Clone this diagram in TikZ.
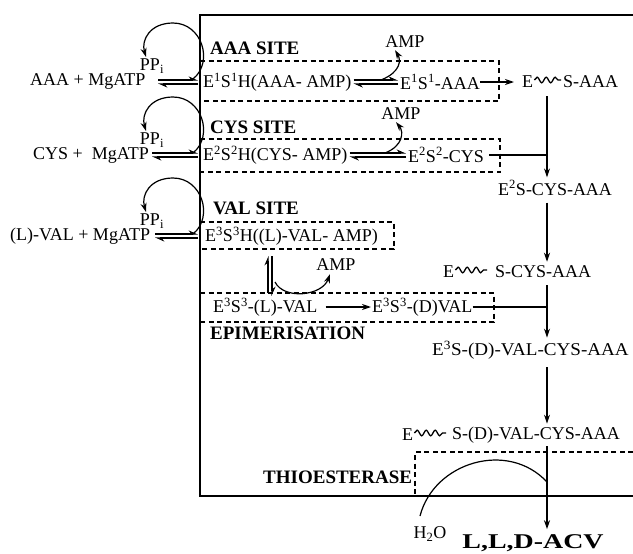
\documentclass[tikz,border=0pt]{standalone}
\usepackage{fontspec}
\setmainfont{Liberation Serif}
\usepackage{graphicx}
\usetikzlibrary{arrows.meta,decorations.pathmorphing,calc}
\newcommand\eqharp[3]{%
  \draw[harp] (#1,#3-2) -- (#2,#3-2);
  \draw[harp] (#2,#3+2) -- (#1,#3+2);}
\newcommand\eqnodes[2]{%
  \draw[harp] ([xshift=2pt,yshift=2pt]#1.east) -- ([xshift=-2pt,yshift=2pt]#2.west);
  \draw[harp] ([xshift=-2pt,yshift=-2pt]#2.west) -- ([xshift=2pt,yshift=-2pt]#1.east);}
\begin{document}
\begin{tikzpicture}[x=1pt,y=-1pt,
  txt/.style={inner sep=0pt, anchor=west, font=\fontsize{18}{20}\selectfont},
  lbl/.style={inner sep=0pt, anchor=west, font=\fontsize{19}{21}\selectfont\bfseries},
  pp/.style={inner sep=0pt, font=\fontsize{18}{20}\selectfont},
  frame/.style={line width=1.4pt},
  box/.style={line width=1.2pt, dash pattern=on 5pt off 3.5pt},
  ln/.style={line width=1.2pt},
  arr/.style={line width=1.2pt, -{Stealth[length=9pt,width=6pt]}},
  harp/.style={line width=1.1pt, -{Stealth[harpoon,length=8pt,width=7pt]}},
  wave/.style={line width=1.3pt, decorate, decoration={snake, amplitude=2.8pt, segment length=9pt}},
]
\useasboundingbox (0,0) rectangle (633,554);

% frame and dashed boxes
\draw[frame] (633,15) -- (200,15) -- (200,496) -- (633,496);
\draw[box] (200,61) -- (499,61) -- (499,101) -- (200,101);
\draw[box] (200,139) -- (500,139) -- (500,172) -- (200,172);
\draw[box] (200,222) -- (394,222) -- (394,249) -- (200,249);
\draw[box] (200,293) -- (494,293) -- (494,322) -- (200,322);
\draw[box] (633,452) -- (415,452) -- (415,496);

% site labels
\node[lbl] (lab1) at (210,48) {AAA SITE};
\node[lbl] (lab2) at (210,127) {CYS SITE};
\node[lbl] (lab3) at (213,208) {VAL SITE};
\node[lbl] (lab4) at (210,333) {EPIMERISATION};
\node[lbl] (lab5) at (263,477) {THIOESTERASE};

% substrates
\node[txt] (r1a) at (30,82) {AAA + MgATP};
\node[txt] (r2a) at (33,155) {CYS + \ MgATP};
\node[txt] (r3a) at (10,236) {(L)-VAL + MgATP};
\node[pp] (pp1) at (152,66) {PP\textsubscript{i}};
\node[pp] (pp2) at (152,140) {PP\textsubscript{i}};
\node[pp] (pp3) at (152,221) {PP\textsubscript{i}};

% intermediates
\node[txt] (n1h) at (203,82) {E\textsuperscript{1}S\textsuperscript{1}H(AAA- AMP)};
\node[txt] (n1) at (400,82) {E\textsuperscript{1}S\textsuperscript{1}-AAA};
\node[txt] (n2h) at (203,155) {E\textsuperscript{2}S\textsuperscript{2}H(CYS- AMP)};
\node[txt] (n2) at (408,155) {E\textsuperscript{2}S\textsuperscript{2}-CYS};
\node[txt] (n3h) at (205,236) {E\textsuperscript{3}S\textsuperscript{3}H((L)-VAL- AMP)};
\node[txt] (n3l) at (213,307) {E\textsuperscript{3}S\textsuperscript{3}-(L)-VAL};
\node[txt] (n3d) at (372,307) {E\textsuperscript{3}S\textsuperscript{3}-(D)VAL};
\node[pp] (amp1) at (405,42) {AMP};
\node[pp] (amp2) at (401,114) {AMP};
\node[pp] (amp3) at (336,265) {AMP};

% right column
\node[txt] (e1) at (522,82) {E};
\node[txt] (s1) at (563,82) {S-AAA};
\node[txt] (c2) at (498,188) {E\textsuperscript{2}S-CYS-AAA};
\node[txt] (e2) at (443,272) {E};
\node[txt] (s2) at (495,272) {S-CYS-AAA};
\node[txt] (c3) at (432,350) {\scalebox{1.06}[1]{E\textsuperscript{3}S-(D)-VAL-CYS-AAA}};
\node[txt] (e4) at (402,435) {E};
\node[txt] (s4) at (452,435) {S-(D)-VAL-CYS-AAA};
\node[pp] (h2o) at (430,534) {H\textsubscript{2}O};
\node[pp, font=\fontsize{21}{24}\selectfont\bfseries] (acv) at (533,543) {\scalebox{1.33}[1]{L,L,D-ACV}};

\draw[wave] ([xshift=1pt,yshift=2pt]e1.east) -- ([xshift=-2pt,yshift=2pt]s1.west);
\draw[wave] ([xshift=1pt,yshift=2pt]e2.east) -- ([xshift=-8pt,yshift=2pt]s2.west);
\draw[wave] ([xshift=1pt,yshift=2pt]e4.east) -- ([xshift=-6pt,yshift=2pt]s4.west);

% equilibria
\eqharp{158}{198}{82}
\eqharp{152}{198}{155}
\eqharp{155}{198}{236}
\eqnodes{n1h}{n1}
\eqnodes{n2h}{n2}
\draw[harp] (268,293) -- (268,256);
\draw[harp] (272,256) -- (272,296);

% PPi loops
\foreach \dy/\p in {0/pp1,74/pp2,155/pp3}{
  \begin{scope}[shift={(0,\dy)}]
    \coordinate (ls) at (193,79);
    \coordinate (le) at (146,57);
    \draw[arr] (ls) .. controls (214,62) and (202,23) .. (173,23) .. controls (150,23) and (141,40) .. (le);
  \end{scope}
}

% AMP release
\coordinate (a1s) at (381,80);
\coordinate (a2s) at (385,153);
\coordinate (a3s) at (275,282);
\draw[arr] (a1s) .. controls (401,72) and (401,60) .. ([xshift=-10pt,yshift=-2pt]amp1.south);
\draw[arr] (a2s) .. controls (403,146) and (404,132) .. ([xshift=-5pt,yshift=-2pt]amp2.south);
\draw[arr] (a3s) .. controls (284,300) and (322,296) .. ([xshift=-6pt,yshift=-3pt]amp3.south);

% epimerisation
\draw[arr] ([xshift=8pt]n3l.east) -- ([xshift=-1pt]n3d.west);

% main chain
\coordinate (vx) at (547,0);
\draw[arr] (n1.east) -- ([xshift=-8pt]e1.west);
\draw[arr] ($(vx|-s1.south)+(0,8)$) -- ($(vx|-c2.north)+(0,-3)$);
\draw[ln] ([xshift=5pt]n2.east) -- (vx|-n2.east);
\draw[arr] ($(vx|-c2.south)+(0,7)$) -- ($(vx|-s2.north)+(0,-4)$);
\draw[arr] ($(vx|-s2.south)+(0,7)$) -- ($(vx|-c3.north)+(0,-3)$);
\draw[ln] (n3d.east) -- (vx|-n3d.east);
\draw[arr] ($(vx|-c3.south)+(0,8)$) -- ($(vx|-s4.north)+(0,-3)$);
\draw[arr] ($(vx|-s4.south)+(0,3)$) -- ($(vx|-acv.north)+(0,-5)$);

% thioesterase hydrolysis
\coordinate (hs) at (420,516);
\coordinate (he) at (547,482);
\draw[ln] (hs) .. controls (434,462) and (508,440) .. (he);
\end{tikzpicture}
\end{document}
